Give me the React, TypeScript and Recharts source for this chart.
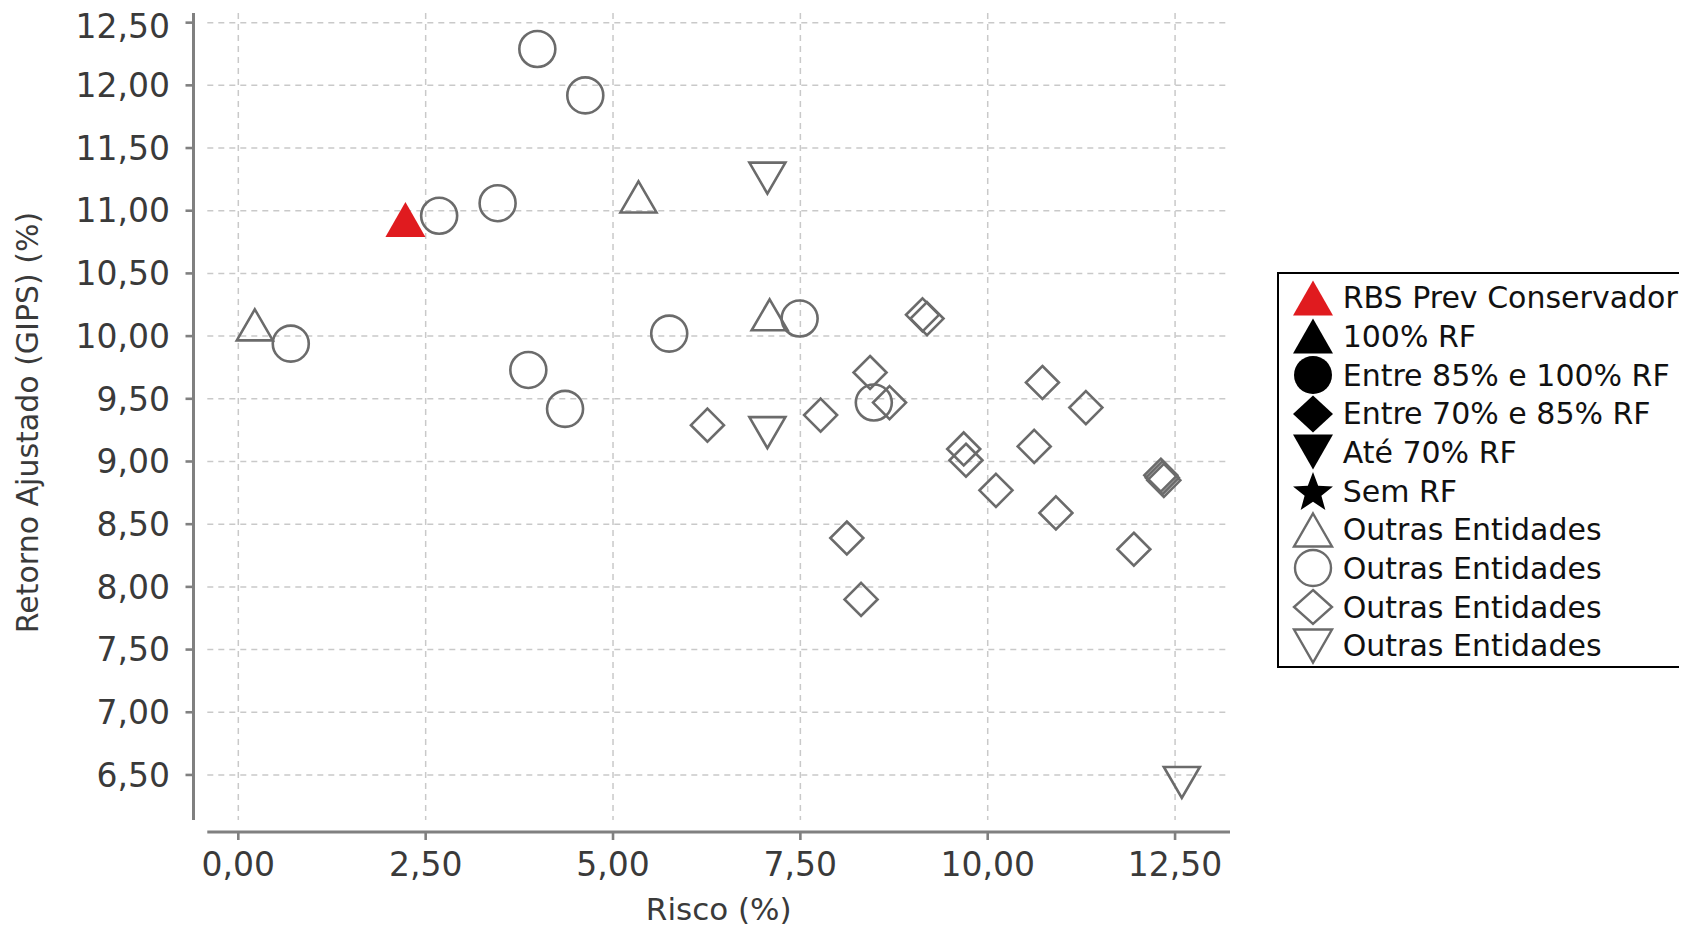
import React from 'react';
import { ScatterChart, Scatter, XAxis, YAxis, CartesianGrid, ReferenceLine, Legend } from 'recharts';

// ---- data ----
const xTicks = [0, 2.5, 5, 7.5, 10, 12.5];
const yTicks = [6.5, 7, 7.5, 8, 8.5, 9, 9.5, 10, 10.5, 11, 11.5, 12, 12.5];

const rbsRisco = [2.23];
const rbsRetorno = [10.93];

const trianguloRisco = [0.22, 5.34, 7.09];
const trianguloRetorno = [10.09, 11.11, 10.17];

const circuloRisco = [3.99, 4.63, 2.68, 3.46, 0.7, 5.75, 3.87, 4.36, 7.49, 8.48];
const circuloRetorno = [12.29, 11.92, 10.96, 11.06, 9.94, 10.02, 9.73, 9.42, 10.14, 9.47];

const losangoRisco = [9.13, 9.19, 8.43, 8.69, 6.26, 7.77, 10.73, 11.31, 9.68, 9.71, 10.62, 10.11, 12.31, 12.33, 12.35, 10.91, 8.12, 11.95, 8.31];
const losangoRetorno = [10.17, 10.14, 9.71, 9.47, 9.29, 9.37, 9.63, 9.43, 9.1, 9.01, 9.12, 8.77, 8.89, 8.87, 8.85, 8.59, 8.39, 8.3, 7.9];

const invertidoRisco = [7.06, 7.06, 12.59];
const invertidoRetorno = [11.26, 9.23, 6.44];

const legendNames = [
  'RBS Prev Conservador',
  '100% RF',
  'Entre 85% e 100% RF',
  'Entre 70% e 85% RF',
  'Até 70% RF',
  'Sem RF',
  'Outras Entidades',
  'Outras Entidades',
  'Outras Entidades',
  'Outras Entidades',
];

const toPoints = (xs: number[], ys: number[]) => xs.map((x, i) => ({ x, y: ys[i] }));

const rbsData = toPoints(rbsRisco, rbsRetorno);
const trianguloData = toPoints(trianguloRisco, trianguloRetorno);
const circuloData = toPoints(circuloRisco, circuloRetorno);
const losangoData = toPoints(losangoRisco, losangoRetorno);
const invertidoData = toPoints(invertidoRisco, invertidoRetorno);

// ---- styles ----
const GRAY = '#6b6b6b';
const RED = '#e01b1f';
const AXIS = '#808080';
const TEXT = '#3a3a3a';
const FONT = "'DejaVu Sans', sans-serif";

type ShapeKind = 'up' | 'circle' | 'diamond' | 'down' | 'star';

function shapePath(kind: ShapeKind, cx: number, cy: number, w: number, h: number): string {
  const hw = w / 2;
  const hh = h / 2;
  switch (kind) {
    case 'up':
      return `M${cx},${cy - hh}L${cx + hw},${cy + hh}L${cx - hw},${cy + hh}Z`;
    case 'down':
      return `M${cx - hw},${cy - hh}L${cx + hw},${cy - hh}L${cx},${cy + hh}Z`;
    case 'diamond':
      return `M${cx},${cy - hh}L${cx + hw},${cy}L${cx},${cy + hh}L${cx - hw},${cy}Z`;
    case 'circle':
      return `M${cx - hw},${cy}A${hw},${hh} 0 1,0 ${cx + hw},${cy}A${hw},${hh} 0 1,0 ${cx - hw},${cy}Z`;
    case 'star': {
      let d = '';
      for (let i = 0; i < 10; i++) {
        const r = i % 2 === 0 ? hw : hw * 0.42;
        const a = -Math.PI / 2 + (i * Math.PI) / 5;
        d += `${i === 0 ? 'M' : 'L'}${cx + r * Math.cos(a)},${cy + r * Math.sin(a) + hh * 0.1}`;
      }
      return d + 'Z';
    }
  }
  return '';
}

const makeShape = (kind: ShapeKind, w: number, h: number, filled: boolean, color: string) => (props: any) => {
  const { cx, cy } = props;
  if (cx == null || cy == null) return <g />;
  return (
    <path
      d={shapePath(kind, cx, cy, w, h)}
      fill={filled ? color : 'none'}
      stroke={filled ? 'none' : color}
      strokeWidth={filled ? 0 : 2.6}
      strokeLinejoin="miter"
    />
  );
};

const legendShapes: { kind: ShapeKind; filled: boolean; color: string; w: number; h: number }[] = [
  { kind: 'up', filled: true, color: RED, w: 40, h: 35 },
  { kind: 'up', filled: true, color: '#000', w: 40, h: 35 },
  { kind: 'circle', filled: true, color: '#000', w: 38, h: 38 },
  { kind: 'diamond', filled: true, color: '#000', w: 40, h: 37 },
  { kind: 'down', filled: true, color: '#000', w: 40, h: 35 },
  { kind: 'star', filled: true, color: '#000', w: 42, h: 38 },
  { kind: 'up', filled: false, color: GRAY, w: 38, h: 33 },
  { kind: 'circle', filled: false, color: GRAY, w: 36, h: 36 },
  { kind: 'diamond', filled: false, color: GRAY, w: 38, h: 34 },
  { kind: 'down', filled: false, color: GRAY, w: 38, h: 33 },
];

const fmt = (v: number) => v.toFixed(2).replace('.', ',');

const LegendBox = () => (
  <div
    style={{
      boxSizing: 'border-box',
      width: 408,
      height: 396,
      border: '2px solid #000',
      background: '#fff',
      paddingTop: 4,
      fontFamily: FONT,
      fontSize: 30,
      color: '#111',
    }}
  >
    {legendNames.map((name, i) => {
      const s = legendShapes[i];
      return (
        <div key={i} style={{ display: 'flex', alignItems: 'center', height: 38.7, whiteSpace: 'nowrap' }}>
          <svg width={44} height={40} style={{ marginLeft: 11.4, flex: 'none', overflow: 'visible' }}>
            <path
              d={shapePath(s.kind, 22, 20, s.w, s.h)}
              fill={s.filled ? s.color : 'none'}
              stroke={s.filled ? 'none' : s.color}
              strokeWidth={2.4}
            />
          </svg>
          <span style={{ marginLeft: 8 }}>{name}</span>
        </div>
      );
    })}
  </div>
);

export default function App() {
  return (
    <ScatterChart
      width={1679}
      height={920}
      margin={{ top: 5, right: 457, bottom: 0, left: 0 }}
      style={{ fontFamily: FONT }}
    >
      <CartesianGrid
        x={199.3}
        y={5}
        width={1022.7}
        height={807}
        stroke="#c9c9c9"
        strokeWidth={1.5}
        strokeDasharray="6 5"
        horizontalValues={yTicks}
        verticalValues={xTicks}
      />
      <XAxis
        type="number"
        dataKey="x"
        domain={[-0.598, 13.233]}
        allowDataOverflow
        ticks={xTicks}
        tickFormatter={fmt}
        axisLine={false}
        tickLine={{ stroke: AXIS, strokeWidth: 2.6 }}
        tickSize={8}
        tickMargin={12.7}
        height={96}
        tick={{ fill: TEXT, fontSize: 33, fontFamily: FONT }}
        label={{ value: 'Risco (%)', position: 'insideBottom', offset: 8, dx: 7, fill: TEXT, fontSize: 31, fontFamily: FONT }}
      />
      <YAxis
        type="number"
        dataKey="y"
        domain={[6.045, 12.577]}
        allowDataOverflow
        ticks={yTicks}
        tickFormatter={fmt}
        axisLine={false}
        tickLine={{ stroke: AXIS, strokeWidth: 2.6 }}
        tickSize={8}
        tickMargin={15.5}
        width={185.5}
        tick={{ fill: TEXT, fontSize: 33, fontFamily: FONT }}
        label={{
          value: 'Retorno Ajustado (GIPS) (%)',
          angle: -90,
          position: 'insideLeft',
          offset: 19,
          fill: TEXT,
          fontSize: 30,
          fontFamily: FONT,
          style: { textAnchor: 'middle' },
        }}
      />
      <ReferenceLine
        segment={[{ x: -0.598, y: 6.141 }, { x: -0.598, y: 12.577 }]}
        stroke={AXIS}
        strokeWidth={3}
        ifOverflow="visible"
      />
      <ReferenceLine
        segment={[{ x: -0.414, y: 6.045 }, { x: 13.233, y: 6.045 }]}
        stroke={AXIS}
        strokeWidth={3}
        ifOverflow="visible"
      />
      <Scatter name={legendNames[6]} data={trianguloData} isAnimationActive={false} shape={makeShape('up', 36, 31, false, GRAY)} />
      <Scatter name={legendNames[7]} data={circuloData} isAnimationActive={false} shape={makeShape('circle', 36, 36, false, GRAY)} />
      <Scatter name={legendNames[8]} data={losangoData} isAnimationActive={false} shape={makeShape('diamond', 33, 33, false, GRAY)} />
      <Scatter name={legendNames[9]} data={invertidoData} isAnimationActive={false} shape={makeShape('down', 36, 31, false, GRAY)} />
      <Scatter name={legendNames[1]} data={[]} isAnimationActive={false} fill="#000" />
      <Scatter name={legendNames[2]} data={[]} isAnimationActive={false} fill="#000" />
      <Scatter name={legendNames[3]} data={[]} isAnimationActive={false} fill="#000" />
      <Scatter name={legendNames[4]} data={[]} isAnimationActive={false} fill="#000" />
      <Scatter name={legendNames[5]} data={[]} isAnimationActive={false} fill="#000" />
      <Scatter name={legendNames[0]} data={rbsData} isAnimationActive={false} shape={makeShape('up', 40, 35, true, RED)} />
      <Legend
        layout="vertical"
        align="center"
        verticalAlign="middle"
        content={() => <LegendBox />}
        wrapperStyle={{ left: 1269.3, top: 264.3, width: 408, height: 396 }}
      />
    </ScatterChart>
  );
}
